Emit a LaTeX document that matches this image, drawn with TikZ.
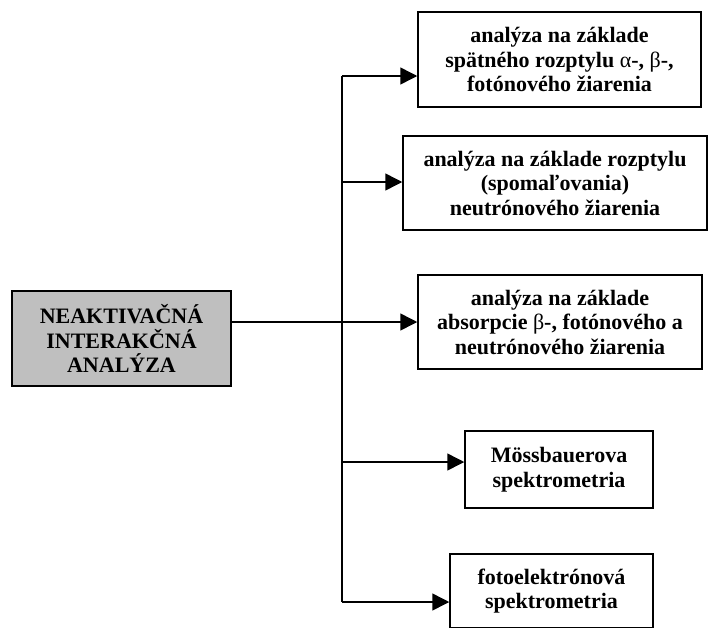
\documentclass[tikz,border=0pt]{standalone}
\usepackage{fontspec}
\setmainfont{Liberation Serif}
\usetikzlibrary{arrows.meta}
\begin{document}
\begin{tikzpicture}[x=1pt,y=-1pt,
  box/.style={draw, line width=1.5pt, rectangle, align=center, inner sep=0pt,
    font=\bfseries\fontsize{22}{24.5}\selectfont},
  conn/.style={line width=1.5pt, -{Triangle[length=17pt,width=17pt]}},
  wire/.style={line width=1.5pt}]
\clip (0,0) rectangle (709,627);
\useasboundingbox (0,0) rectangle (709,627);
\node[box, fill=black!25, minimum width=219pt, minimum height=95pt] (main) at (121.5,338.5)
  {NEAKTIVAČNÁ\\INTERAKČNÁ\\ANALÝZA};
\node[box, minimum width=283pt, minimum height=95pt] (b1) at (559.5,59.5)
  {analýza na základe\\spätného rozptylu {\mdseries α}-, {\mdseries β}-,\\fotónového žiarenia};
\node[box, minimum width=304pt, minimum height=94pt] (b2) at (555,183)
  {analýza na základe rozptylu\\(spomaľovania)\\neutrónového žiarenia};
\node[box, minimum width=284pt, minimum height=94pt] (b3) at (560,322)
  {analýza na základe\\absorpcie {\mdseries β}-, fotónového a\\neutrónového žiarenia};
\node[box, minimum width=188pt, minimum height=77pt] (b4) at (559,469.5)
  {Mössbauerova\\spektrometria};
\node[box, minimum width=203pt, minimum height=74pt] (b5) at (551.5,591)
  {fotoelektrónová\\spektrometria};
\coordinate (j1) at (342,76);
\coordinate (j2) at (342,182);
\coordinate (j3) at (342,322);
\coordinate (j4) at (342,462);
\coordinate (j5) at (342,602);
\draw[wire] (j1) -- (j5);
\draw[conn] (j1) -- (j1 -| b1.west);
\draw[conn] (j2) -- (j2 -| b2.west);
\draw[conn] (main.east |- j3) -- (j3 -| b3.west);
\draw[conn] (j4) -- (j4 -| b4.west);
\draw[conn] (j5) -- (j5 -| b5.west);
\end{tikzpicture}
\end{document}
